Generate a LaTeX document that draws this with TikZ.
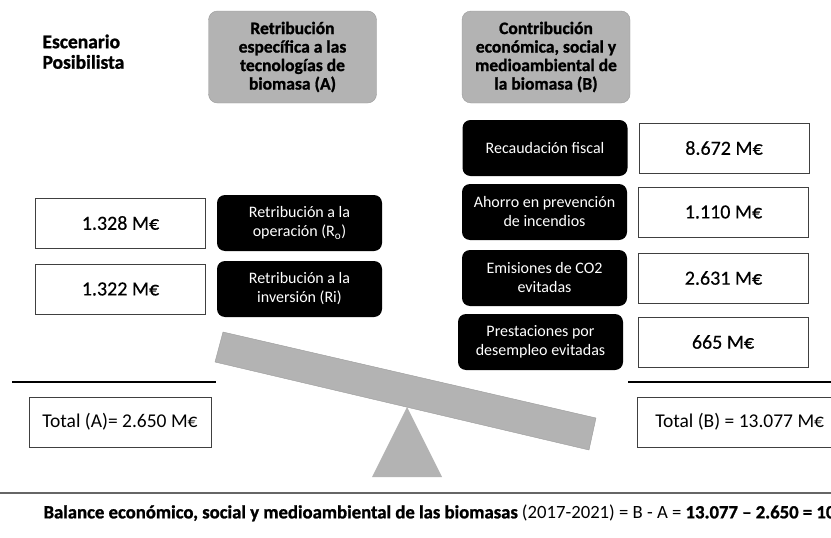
\documentclass[tikz,border=0pt]{standalone}
\usepackage{fontspec}
\setmainfont{Carlito}[BoldFeatures={FakeBold=1.2}]
\usetikzlibrary{positioning}

\definecolor{beamgray}{RGB}{179,179,179}
\definecolor{beamedge}{RGB}{155,155,155}

\begin{document}
\begin{tikzpicture}[x=1pt,y=-1pt,node distance=179pt,on grid,
      head/.style={draw=beamedge,fill=beamgray,rounded corners=9pt,minimum width=168pt,
        minimum height=92pt,align=center,font=\fontsize{17.5}{18.5}\selectfont\bfseries},
      concept/.style={fill=black,text=white,rounded corners=8pt,minimum width=165pt,
        minimum height=56pt,align=center,font=\fontsize{16}{19}\selectfont},
      amount/.style={draw=black!75,fill=white,minimum width=170pt,minimum height=50pt,
        font=\fontsize{20}{22}\selectfont\addfontfeature{FakeBold=0.4}},
      total/.style={draw=black!75,minimum height=50pt,font=\fontsize{19.5}{22}\selectfont}]

      \useasboundingbox (0,0) rectangle (831,538);
      \clip (0,0) rectangle (831,538);

      % titles
      \node[anchor=north west,align=left,font=\fontsize{19.5}{20.5}\selectfont\bfseries]
        (scen) at (39,31) {Escenario\\Posibilista};
      \node[head] (ha) at (292.5,57) {Retribución\\específica a las\\tecnologías de\\biomasa (A)};
      \node[head] (hb) at (546,57) {Contribución\\económica, social y\\medioambiental de\\la biomasa (B)};

      % side A
      \node[concept]             (ro)                       at (299.5,223) {Retribución a la\\operación (R\textsubscript{o})};
      \node[concept]             (ri)                       at (299.5,289) {Retribución a la\\inversión (Ri)};
      \node[amount]              (vro) [left=of ro]         {1.328 M€};
      \node[amount]              (vri) [left=of ri]         {1.322 M€};

      % side B
      \node[concept]             (rf)                       at (545,148)   {Recaudación fiscal};
      \node[concept]             (ai)                       at (544.5,212) {Ahorro en prevención\\de incendios};
      \node[concept]             (co)                       at (544.5,278) {Emisiones de CO2\\evitadas};
      \node[concept]             (pd)                       at (540.5,342) {Prestaciones por\\desempleo evitadas};
      \node[amount]              (vrf) [right=of rf]        {8.672 M€};
      \node[amount]              (vai) [right=of ai]        {1.110 M€};
      \node[amount]              (vco) [right=of co]        {2.631 M€};
      \node[amount]              (vpd) [right=182.5pt of pd] {665 M€};

      % seesaw
      \draw[beamedge,fill=beamgray] (223,332) -- (596,418) -- (589,450) -- (215,362) -- cycle;
      \fill[beamgray] (407,407) -- (442,477) -- (372,477) -- cycle;

      % totals
      \draw[line width=2pt] (12,382) -- (216,382);
      \draw[line width=2pt] (628,382) -- (831,382);
      \node[total,minimum width=182pt]            (ta) at (120,422) {Total (A)= 2.650 M€};
      \node[total,minimum width=205pt,anchor=west] (tb) at (637,422) {Total (B) = 13.077 M€};

      % balance
      \draw[line width=1.5pt,black!60] (0,493) -- (831,493);
      \node[anchor=west,font=\fontsize{18.7}{22}\selectfont] (bal) at (40,513)
        {\textbf{Balance económico, social y medioambiental de las biomasas} (2017-2021) = B - A = \textbf{13.077 – 2.650 = 10.427} M€};
    \end{tikzpicture}
\end{document}
